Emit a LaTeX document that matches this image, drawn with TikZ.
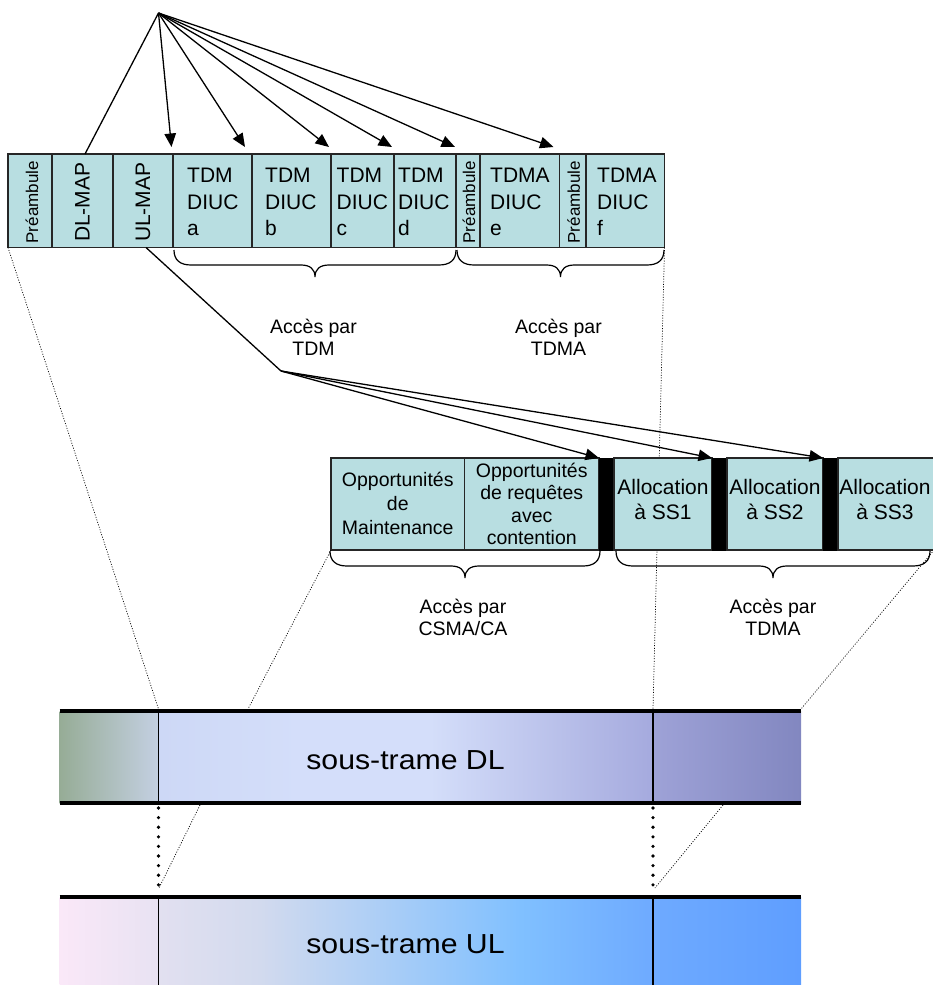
\documentclass[tikz,border=0pt]{standalone}
\usepackage{fontspec}
\setmainfont{Liberation Sans}
\usetikzlibrary{arrows.meta}
\definecolor{cellc}{RGB}{184,222,225}
\definecolor{dla}{RGB}{150,172,150}
\definecolor{dlb}{RGB}{196,208,226}
\definecolor{dlc}{RGB}{205,216,246}
\definecolor{dld}{RGB}{212,222,250}
\definecolor{dle}{RGB}{165,170,222}
\definecolor{dlf}{RGB}{158,162,215}
\definecolor{dlg}{RGB}{130,135,192}
\definecolor{ula}{RGB}{250,232,248}
\definecolor{ulb}{RGB}{232,226,242}
\definecolor{ulc}{RGB}{226,224,240}
\definecolor{uld}{RGB}{210,218,238}
\definecolor{ule}{RGB}{128,192,255}
\definecolor{ulf}{RGB}{110,170,255}
\definecolor{ulg}{RGB}{95,158,255}
\newcommand\hbrace[3]{%
  \pgfmathsetmacro\bxm{(#1+#2)/2}%
  \draw[brc] (#1,#3) .. controls (#1,#3+10) and (#1+6,#3+15) .. (#1+17,#3+15)
    -- (\bxm-14,#3+15) .. controls (\bxm-5,#3+15) and (\bxm,#3+19) .. (\bxm,#3+27)
    .. controls (\bxm,#3+19) and (\bxm+5,#3+15) .. (\bxm+14,#3+15)
    -- (#2-17,#3+15) .. controls (#2-6,#3+15) and (#2,#3+10) .. (#2,#3);}
\begin{document}
\begin{tikzpicture}[x=1pt,y=-1pt,
  cell/.style={draw=black!85,line width=1.1pt,fill=cellc,inner sep=0pt,outer sep=0pt,anchor=north west,minimum height=93.5pt},
  cell2/.style={draw=black!85,line width=1.1pt,fill=cellc,inner sep=0pt,outer sep=0pt,anchor=north west,minimum height=92pt},
  blk/.style={draw=black,fill=black,line width=0.5pt,inner sep=0pt,outer sep=0pt,anchor=north west,minimum height=92pt,minimum width=15pt},
  rotsmall/.style={rotate=90,inner sep=0pt,font=\fontsize{17}{20}\selectfont},
  rotbig/.style={rotate=90,inner sep=0pt,font=\fontsize{21}{25}\selectfont},
  tl/.style={anchor=north west,align=left,inner sep=0pt,font=\fontsize{21}{26.5}\selectfont},
  ct/.style={align=center,inner sep=0pt,font=\fontsize{19.5}{22.5}\selectfont},
  al/.style={align=center,inner sep=0pt,font=\fontsize{21}{25}\selectfont},
  acc/.style={anchor=north,align=center,inner sep=0pt,font=\fontsize{19.5}{22}\selectfont},
  arr/.style={line width=1.3pt,-{Triangle[length=13.5pt,width=11.5pt]}},
  brc/.style={line width=1.2pt},
  dotl/.style={line width=0.7pt,dash pattern=on 1pt off 1.6pt},
  bigdot/.style={line width=3.6pt,line cap=round,dash pattern=on 0pt off 9.6pt},
  bartext/.style={inner sep=0pt,xscale=1.1,font=\fontsize{27.5}{30}\selectfont}]
\useasboundingbox (0,0) rectangle (933,985);

% coordinates for free ends
\coordinate (src) at (158.5,13);
\coordinate (ta) at (171.5,147);
\coordinate (tb) at (245,147);
\coordinate (tc) at (329,147);
\coordinate (td) at (392,147);
\coordinate (te) at (455,147);
\coordinate (tf) at (553.5,147);
\coordinate (src2) at (281,371);
\coordinate (dA) at (158.5,709);
\coordinate (dB) at (653,709);
\coordinate (dC) at (248,709);
\coordinate (dD) at (801,709);
\coordinate (dE) at (200,805);
\coordinate (dF) at (159,888);
\coordinate (dG) at (723,805);
\coordinate (dH) at (655,888);
\coordinate (vA1) at (158.5,808);
\coordinate (vA2) at (158.5,886);
\coordinate (vB1) at (653,808);
\coordinate (vB2) at (653,886);

% ---- bars (bottom) ----
\shade[left color=dla,right color=dlb] (59.5,711) rectangle (158.9,803);
\shade[left color=dlc,right color=dld] (158.5,711) rectangle (300.4,803);
\fill[dld] (300,711) rectangle (430.4,803);
\shade[left color=dld,right color=dle] (430,711) rectangle (653.4,803);
\shade[left color=dlf,right color=dlg] (653,711) rectangle (801,803);
\shade[left color=ula,right color=ulb] (59.5,897) rectangle (158.9,986);
\shade[left color=ulc,right color=uld] (158.5,897) rectangle (260.4,986);
\shade[left color=uld,right color=ule] (260,897) rectangle (520.4,986);
\shade[left color=ule,right color=ulf] (520,897) rectangle (653.4,986);
\shade[left color=ulf,right color=ulg] (653,897) rectangle (801,986);
\draw[line width=1.2pt] (158.5,711) -- (158.5,803) (653,711) -- (653,803)
  (158.5,897) -- (158.5,986) (653,897) -- (653,986);
\draw[line width=4pt] (59.5,711) -- (801,711) (59.5,803) -- (801,803);
\draw[line width=3.6pt] (59.5,896.8) -- (801,896.8);
\node[bartext] (dltxt) at (405.5,760) {sous-trame DL};
\node[bartext] (ultxt) at (405.5,944.5) {sous-trame UL};

% ---- top frame ----
\node[cell,minimum width=44pt] (pre1) at (8,154) {};
\node[cell,minimum width=61pt] (dlmap) at (52,154) {};
\node[cell,minimum width=60pt] (ulmap) at (113,154) {};
\node[cell,minimum width=79pt] (ca) at (173,154) {};
\node[cell,minimum width=79pt] (cb) at (252,154) {};
\node[cell,minimum width=63pt] (cc) at (331,154) {};
\node[cell,minimum width=62pt] (cd) at (394,154) {};
\node[cell,minimum width=24pt] (pre2) at (456,154) {};
\node[cell,minimum width=79.5pt] (ce) at (480,154) {};
\node[cell,minimum width=26.5pt] (pre3) at (559.5,154) {};
\node[cell,minimum width=78.5pt] (cf) at (586,154) {};

% dotted guide lines (behind second frame)
\draw[dotl] (pre1.south west) -- (dA);
\draw[dotl] (cf.south east) -- (dB);

\node[rotsmall] (tpre1) at ([xshift=2pt,yshift=-1.5pt]pre1.center) {Préambule};
\node[rotsmall] (tpre2) at ([xshift=1pt,yshift=-1.5pt]pre2.center) {Préambule};
\node[rotsmall] (tpre3) at ([xshift=1pt,yshift=-1.5pt]pre3.center) {Préambule};
\node[rotbig] (tdl) at ([yshift=-1.5pt]dlmap.center) {DL-MAP};
\node[rotbig] (tul) at ([yshift=-1.5pt]ulmap.center) {UL-MAP};
\node[tl] (la) at (187,168) {TDM\\DIUC\\a};
\node[tl] (lb) at (265,168) {TDM\\DIUC\\b};
\node[tl] (lc) at (336.5,168) {TDM\\DIUC\\c};
\node[tl] (ld) at (398,168) {TDM\\DIUC\\d};
\node[tl] (le) at (490,168) {TDMA\\DIUC\\e};
\node[tl] (lf) at (597,168) {TDMA\\DIUC\\f};

% arrows from top source
\draw[line width=1.3pt] (src) -- ([xshift=2.5pt]dlmap.north);
\draw[arr] (src) -- (ta);
\draw[arr] (src) -- (tb);
\draw[arr] (src) -- (tc);
\draw[arr] (src) -- (td);
\draw[arr] (src) -- (te);
\draw[arr] (src) -- (tf);

% braces top
\hbrace{174}{456}{250}
\hbrace{457}{664}{250}
\node[acc] (acc1) at (313.5,318.5) {Accès par\\TDM};
\node[acc] (acc2) at (558.5,318.5) {Accès par\\TDMA};

% UL-MAP line and arrows
\draw[line width=1.3pt] ([xshift=3pt]ulmap.south) -- (src2);

% ---- second frame ----
\node[cell2,minimum width=133.5pt] (opm) at (331,458) {};
\node[cell2,minimum width=134.5pt] (opr) at (464.5,458) {};
\node[blk] (k1) at (599,458) {};
\node[cell2,minimum width=98pt] (s1) at (614,458) {};
\node[blk] (k2) at (712,458) {};
\node[cell2,minimum width=96pt] (s2) at (727,458) {};
\node[blk] (k3) at (823,458) {};
\node[cell2,minimum width=97pt] (s3) at (838,458) {};

\draw[arr] (src2) -- (k1.north west);
\draw[arr] (src2) -- (k2.north west);
\draw[arr] (src2) -- (k3.north west);

\node[ct,font=\fontsize{19.5}{24}\selectfont] (topm) at ([yshift=1pt]opm.center) {Opportunités\\de\\Maintenance};
\node[ct] (topr) at ([yshift=0pt]opr.center) {Opportunités\\de requêtes\\avec\\contention};
\node[al] (ts1) at ([xshift=0pt,yshift=5pt]s1.center) {Allocation\\à SS1};
\node[al] (ts2) at ([yshift=5pt]s2.center) {Allocation\\à SS2};
\node[al] (ts3) at ([xshift=-1.5pt,yshift=5pt]s3.center) {Allocation\\à SS3};

\draw[dotl] (opm.south west) -- (dC);
\draw[dotl] ([xshift=-1pt]s3.south east) -- (dD);

% braces bottom
\hbrace{330}{600}{551}
\hbrace{616}{930}{551}
\node[acc] (acc3) at (463,598.5) {Accès par\\CSMA/CA};
\node[acc] (acc4) at (773,598.5) {Accès par\\TDMA};

% between bars
\draw[dotl] (dE) -- (dF);
\draw[dotl] (dG) -- (dH);
\draw[bigdot] (vA1) -- (vA2);
\draw[bigdot] (vB1) -- (vB2);
\end{tikzpicture}
\end{document}
